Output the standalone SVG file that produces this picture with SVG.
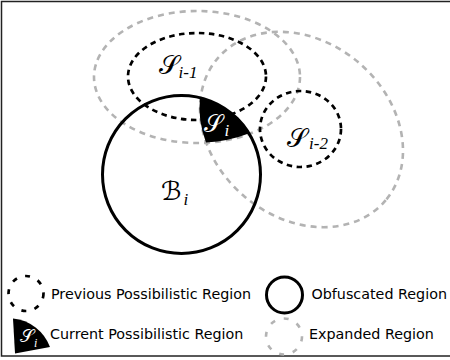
<svg xmlns="http://www.w3.org/2000/svg" width="450" height="360" viewBox="0 0 450 360">
  <style>
    .expanded { fill: none; stroke: #b3b3b3; stroke-width: 2.6; stroke-dasharray: 6 5; }
    .previous { fill: none; stroke: #000; stroke-width: 2.7; stroke-dasharray: 5.5 4.5; }
    .obfuscated { fill: none; stroke: #000; stroke-width: 3; }
    .current { fill: #000; stroke: none; }
    .math { font-family: "DejaVu Serif", "DejaVu Sans", serif; }
    .sub { font-family: "Liberation Serif", serif; font-style: italic; }
    .legend-text { font-family: "DejaVu Sans", sans-serif; font-size: 14.3px; fill: #000; }
  </style>

  <!-- frame -->
  <rect x="1.5" y="1.5" width="452" height="354.5" fill="#fff" stroke="#222" stroke-width="1.5"/>

  <!-- expanded regions -->
  <g id="expanded-prev">
    <ellipse class="expanded" cx="197" cy="77" rx="103" ry="66"/>
  </g>
  <g id="expanded-prev2">
    <ellipse class="expanded" cx="301.5" cy="129.5" rx="110" ry="88" transform="rotate(40 301.5 129.5)"/>
  </g>

  <!-- previous possibilistic regions -->
  <g id="s-i-1">
    <ellipse class="previous" cx="197" cy="76.5" rx="69" ry="43.5"/>
    <text class="math" x="159" y="74" font-size="26">𝒮</text>
    <text class="sub" x="178.5" y="78" font-size="17">i-1</text>
  </g>
  <g id="s-i-2">
    <ellipse class="previous" cx="300.5" cy="129" rx="40.5" ry="38"/>
    <text class="math" x="286.5" y="147" font-size="26">𝒮</text>
    <text class="sub" x="309" y="149" font-size="17">i-2</text>
  </g>

  <!-- current possibilistic region: obfuscated disc ∩ both expanded regions -->
  <g id="s-i">
    <path class="current" d="M200,97.7 A79,79 0 0,1 248.7,133.5 A103,66 0 0,1 206,142.6 A110,88 40 0,1 200,97.7 Z"/>
    <text class="math" x="204" y="131.5" font-size="24" fill="#fff">𝒮</text>
    <text class="sub" x="224.5" y="136" font-size="17" fill="#fff">i</text>
  </g>

  <!-- obfuscated region -->
  <g id="b-i">
    <circle class="obfuscated" cx="181.5" cy="174.5" r="79"/>
    <text class="math" x="161" y="200" font-size="26">ℬ</text>
    <text class="sub" x="183.5" y="205" font-size="17">i</text>
  </g>

  <!-- legend -->
  <g id="legend-previous">
    <circle cx="26" cy="293.5" r="17.5" fill="none" stroke="#000" stroke-width="2.7" stroke-dasharray="5 8.5"/>
    <text class="legend-text" x="51" y="298.5">Previous Possibilistic Region</text>
  </g>
  <g id="legend-obfuscated">
    <circle class="obfuscated" cx="284.5" cy="295" r="18"/>
    <text class="legend-text" x="311.5" y="298.5">Obfuscated Region</text>
  </g>
  <g id="legend-current">
    <path class="current" d="M13,318.5 A44,44 0 0,1 50,347 L15,353.5 Z"/>
    <text class="math" x="19.5" y="342" font-size="18" fill="#fff">𝒮</text>
    <text class="sub" x="34" y="347" font-size="12" fill="#fff">i</text>
    <text class="legend-text" x="50" y="339">Current Possibilistic Region</text>
  </g>
  <g id="legend-expanded">
    <circle cx="284" cy="336.5" r="18" fill="none" stroke="#b3b3b3" stroke-width="2.6" stroke-dasharray="5 9"/>
    <text class="legend-text" x="309" y="339">Expanded Region</text>
  </g>
</svg>
